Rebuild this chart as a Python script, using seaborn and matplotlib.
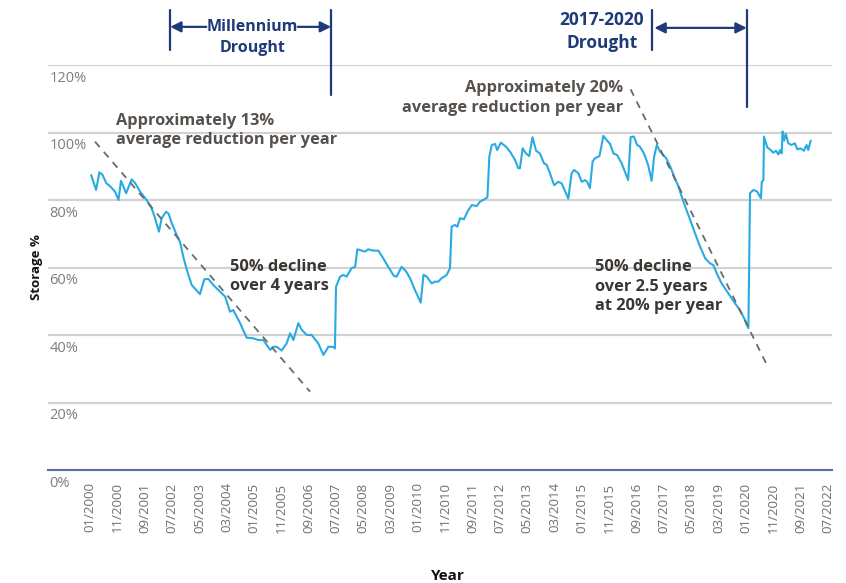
import numpy as np
import matplotlib
matplotlib.use("Agg")
import matplotlib.pyplot as plt
from matplotlib.transforms import blended_transform_factory
import seaborn as sns

# months since 01/2000 and storage (%)
months = [0.4, 2.2, 3.4, 4.6, 5.9, 7.3, 9.1, 10.4, 11.3, 13.2, 15.2, 16.5, 18.3, 20.5,
          22.3, 23.4, 25.2, 26.2, 27.8, 28.7, 29.9, 31.7, 32.9, 34.1, 35.4, 37.2, 40.2,
          41.8, 43.3, 45.1, 47.6, 49.4, 51.2, 52.4, 54.9, 57.3, 59.8, 61.6, 63.4, 65.9,
          67.1, 68.3, 70.1, 71.9, 73.2, 74.4, 76.2, 77.5, 79.3, 81.1, 83.5, 85.4, 87.2,
          89.0, 89.6, 90.0, 91.5, 92.7, 93.9, 95.7, 97.0, 97.8, 99.4, 100.6, 101.8, 103.6,
          105.5, 107.3, 109.1, 111.2, 112.2, 114.0, 115.6, 117.1, 118.9, 121.0, 122.0,
          123.2, 125.0, 126.2, 127.4, 128.6, 130.5, 131.7, 132.3, 133.5, 134.4, 135.4,
          136.8, 138.4, 139.7, 141.5, 142.7, 144.5, 145.4, 146.1, 147.0, 148.2, 149.0,
          150.3, 152.2, 153.7, 155.5, 156.7, 157.3, 158.3, 159.5, 160.7, 161.9, 163.2,
          164.6, 166.1, 167.1, 168.3, 169.8, 171.4, 172.6, 175.0, 176.2, 177.1, 178.7,
          179.9, 181.1, 181.9, 182.9, 183.9, 184.8, 186.4, 187.2, 187.8, 189.0, 190.3,
          191.5, 192.9, 194.5, 196.9, 197.8, 199.0, 200.2, 201.2, 202.7, 204.2, 205.5,
          206.4, 207.4, 208.6, 210.8, 212.3, 214.0, 215.3, 216.5, 217.8, 219.6, 221.4,
          223.2, 225.1, 226.9, 228.1, 229.3, 231.1, 233.6, 236.0, 237.8, 239.7, 240.9,
          241.5, 242.7, 244.1, 245.5, 245.8, 246.4, 246.6, 247.8, 249.1, 250.0, 251.0,
          251.9, 252.5, 253.1, 253.4, 254.0, 254.6, 255.5, 256.7, 257.9, 258.8, 260.0,
          261.2, 262.2, 262.8, 263.7]
storage = [87.4, 83.0, 88.2, 87.4, 85.0, 84.1, 82.5, 80.0, 85.7, 82.0, 86.1, 85.0, 82.5, 80.2,
           78.0, 75.6, 70.6, 74.6, 76.5, 76.0, 73.1, 69.6, 67.6, 63.2, 59.3, 54.8, 52.1,
           56.5, 56.6, 54.8, 52.8, 51.4, 46.9, 47.4, 43.5, 39.2, 39.0, 38.5, 38.5, 35.6,
           36.5, 36.5, 35.4, 37.5, 40.5, 38.5, 43.5, 41.5, 40.0, 40.0, 37.5, 34.1, 36.5,
           36.5, 36.0, 54.3, 57.3, 57.8, 57.3, 59.8, 60.2, 65.4, 65.0, 64.7, 65.4, 65.0,
           65.0, 62.7, 60.2, 57.5, 57.3, 60.2, 58.9, 56.8, 53.3, 49.6, 57.8,
           57.3, 55.3, 55.8, 55.8, 56.8, 57.8, 59.8, 72.1, 72.6, 72.1, 74.6,
           74.3, 77.0, 78.5, 78.2, 79.5, 80.3, 80.8, 92.8, 96.3, 96.6, 94.8,
           97.0, 95.8, 94.3, 91.9, 89.4, 89.4, 95.3, 93.8, 93.0, 98.6, 94.6,
           93.8, 90.9, 90.4, 87.9, 84.4, 85.4, 84.9, 80.4, 87.9, 88.9, 87.9,
           85.4, 85.9, 85.4, 83.5, 91.4, 92.4, 93.0, 96.3, 99.0, 97.8, 96.6,
           93.8, 93.3, 90.9, 85.9, 98.6, 98.8, 96.3, 95.8, 93.8, 90.4, 85.7,
           92.8, 96.3, 94.3, 92.4, 89.9, 86.4, 84.0, 81.0, 78.0, 74.1, 70.1,
           66.2, 62.7, 61.2, 60.7, 58.3, 55.3, 52.3, 49.4, 47.4, 44.4, 42.0,
           82.0, 83.0, 82.5, 80.5, 85.4, 85.9, 98.8, 95.6, 94.8, 94.0, 94.6,
           93.5, 94.8, 93.8, 100.3, 97.6, 99.6, 96.8, 96.3, 96.8, 95.0, 95.3,
           94.6, 96.3, 94.8, 97.6]

tick_labels = ["01/2000", "11/2000", "09/2001", "07/2002", "05/2003", "03/2004", "01/2005",
               "11/2005", "09/2006", "07/2007", "05/2008", "03/2009", "01/2010", "11/2010",
               "09/2011", "07/2012", "05/2013", "03/2014", "01/2015", "11/2015", "09/2016",
               "07/2017", "05/2018", "03/2019", "01/2020", "11/2020", "09/2021", "07/2022"]
tick_months = list(range(0, 271, 10))
y_ticks = [0, 20, 40, 60, 80, 100, 120]

# trend lines (start/end points)
trend1_x = [1.8, 80.5]
trend1_y = [97.3, 23.2]
trend2_x = [197.8, 248.0]
trend2_y = [112.8, 30.6]

# drought periods (months)
millennium = (29.3, 88.2)
recent = (205.5, 240.3)

sns.set_style("white")
plt.rcParams["font.family"] = ["Open Sans", "DejaVu Sans"]

NAVY = "#1f3a78"
BLUE = "#29abe2"
TXT = "#57514d"
DARK = "#3b3632"

fig = plt.figure(figsize=(8.46, 5.83), dpi=100)
ax = fig.add_axes([48 / 846, 113 / 583, 784 / 846, 405 / 583])

sns.lineplot(x=months, y=storage, ax=ax, color=BLUE, linewidth=1.5)
ax.plot(trend1_x, trend1_y, color="#6a6a6a", lw=1.3, linestyle=(0, (4, 3.5)))
ax.plot(trend2_x, trend2_y, color="#6a6a6a", lw=1.3, linestyle=(0, (4, 3.5)))

ax.set_xlim(-15.4, 271.5)
ax.set_ylim(0, 120)

for s in ["top", "right", "left"]:
    ax.spines[s].set_visible(False)
ax.spines["bottom"].set_color("#5a6d9c")
ax.spines["bottom"].set_linewidth(1.5)

ax.set_yticks(y_ticks[1:])
ax.set_yticklabels([])
ax.tick_params(axis="y", length=0)
ax.grid(axis="y", color="#d2d2d2", linewidth=1.6)
ax.set_axisbelow(True)

ax.set_xticks(tick_months)
ax.set_xticklabels(tick_labels, rotation=90, fontsize=9.5, color="#6e6e6e")
ax.tick_params(axis="x", direction="out", length=6, width=1.2, color="#5a6d9c", pad=3)

trans = blended_transform_factory(ax.transAxes, ax.transData)
for v in y_ticks:
    ax.annotate(f"{v}%", xy=(0, v), xycoords=trans, xytext=(1, -4),
                textcoords="offset points", ha="left", va="top",
                fontsize=10.5, color="#7d7d7d")

ax.set_xlabel("Year", fontsize=11, fontweight="bold", color="#111111")
ax.set_ylabel("Storage %", fontsize=9.5, fontweight="bold", color="#111111")
ax.yaxis.set_label_coords(-0.006, 0.5)
ax.xaxis.set_label_coords(0.51, -0.245)

# annotations
ax.text(9.5, 100.6, "Approximately 13%\naverage reduction per year", fontsize=11.8,
        fontweight="bold", color=TXT, ha="left", va="center", linespacing=1.3)
ax.text(195, 110.2, "Approximately 20%\naverage reduction per year", fontsize=11.8,
        fontweight="bold", color=TXT, ha="right", va="center", linespacing=1.3)
ax.text(51.2, 57.3, "50% decline\nover 4 years", fontsize=11.8, fontweight="bold",
        color=DARK, ha="left", va="center", linespacing=1.3)
ax.text(184.8, 54.3, "50% decline\nover 2.5 years\nat 20% per year", fontsize=11.8,
        fontweight="bold", color=DARK, ha="left", va="center", linespacing=1.3)

# drought brackets
ax.plot([millennium[0]] * 2, [124.4, 136.3], color=NAVY, lw=1.6, clip_on=False)
ax.plot([millennium[1]] * 2, [111.0, 136.3], color=NAVY, lw=1.6, clip_on=False)
ax.plot([recent[0]] * 2, [124.4, 136.3], color=NAVY, lw=1.6, clip_on=False)
ax.plot([recent[1]] * 2, [107.6, 136.3], color=NAVY, lw=1.6, clip_on=False)

arrow = dict(arrowstyle="-|>", color=NAVY, lw=1.6, mutation_scale=16, shrinkA=0, shrinkB=0)
ax.annotate("", xy=(millennium[0], 131.3), xytext=(42.5, 131.3), arrowprops=arrow,
            annotation_clip=False)
ax.annotate("", xy=(millennium[1], 131.3), xytext=(76.0, 131.3), arrowprops=arrow,
            annotation_clip=False)
ax.text(59.3, 128.2, "Millennium\nDrought", fontsize=11.5, fontweight="bold", color=NAVY,
        ha="center", va="center", linespacing=1.4, clip_on=False)

arrow2 = dict(arrowstyle="<|-|>", color=NAVY, lw=1.6, mutation_scale=16, shrinkA=0, shrinkB=0)
ax.annotate("", xy=(recent[1], 131.0), xytext=(recent[0] + 1.0, 131.0), arrowprops=arrow2,
            annotation_clip=False)
ax.text(187.2, 129.8, "2017-2020\nDrought", fontsize=12.5, fontweight="bold", color=NAVY,
        ha="center", va="center", linespacing=1.35, clip_on=False)

fig.savefig("out.png", dpi=100)
